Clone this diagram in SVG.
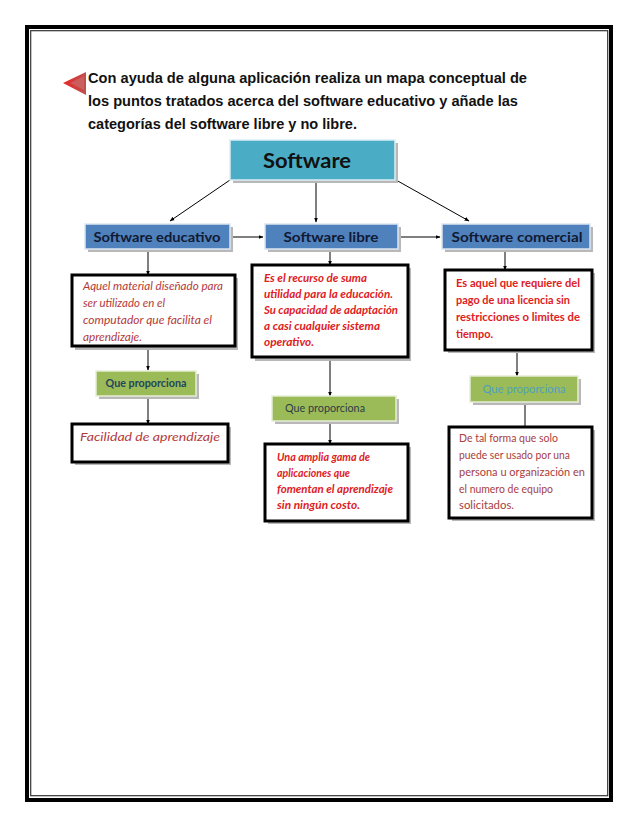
<svg xmlns="http://www.w3.org/2000/svg" width="638" height="826" viewBox="0 0 638 826">
<defs>
<marker id="ah" viewBox="0 0 10 10" refX="9" refY="5" markerWidth="5" markerHeight="5" orient="auto" markerUnits="userSpaceOnUse"><path d="M0,1 L10,5 L0,9 z" fill="#000"/></marker>
<linearGradient id="tri" x1="0" y1="0" x2="1" y2="0"><stop offset="0" stop-color="#e8262a"/><stop offset="1" stop-color="#c0504d"/></linearGradient>
</defs>
<style>
.title{font-family:"Liberation Sans",Arial,sans-serif;font-weight:bold;font-size:15px;fill:#111}
.cal{font-family:Lato,"Open Sans",sans-serif}
.hdr{font-weight:bold;font-size:13px;fill:#111a33}
.blue{fill:#4f81bd;stroke:#dce6f2;stroke-width:1.5}
.teal{fill:#4bacc6;stroke:#dbeef4;stroke-width:1.5}
.green{fill:#9bbb59;stroke:#e6eed5;stroke-width:1.5}
.sh{fill:#b8b8b8}
.desc{fill:#fff;stroke:#000;stroke-width:3}
.red1{font-style:italic;font-size:10.5px;fill:#b33a3a}
.red2{font-style:italic;font-weight:bold;font-size:10.5px;fill:#e0201e}
.red3{font-weight:bold;font-size:10.5px;fill:#e0201e}
.red4{font-size:10.5px;fill:#a8403d}
.conn line,.conn path{stroke:#000;stroke-width:1;fill:none}
</style>
<rect width="638" height="826" fill="#fff"/>
<g id="frame">
<rect x="27" y="27" width="584" height="773" fill="none" stroke="#000" stroke-width="4"/>
<rect x="30.7" y="30.7" width="577" height="765" fill="none" stroke="#333" stroke-width="1.2"/>
</g>
<g id="title">
<polygon points="63,83 86,72 86,95" fill="url(#tri)"/>
<polygon points="70,83 84,76 84,90" fill="#c9716e" opacity="0.6"/>
<text class="title" x="88" y="83" textLength="439" lengthAdjust="spacingAndGlyphs">Con ayuda de alguna aplicación realiza un mapa conceptual de</text>
<text class="title" x="88" y="106" textLength="430" lengthAdjust="spacingAndGlyphs">los puntos tratados acerca del software educativo y añade las</text>
<text class="title" x="88" y="129" textLength="269" lengthAdjust="spacingAndGlyphs">categorías del software libre y no libre.</text>
</g>
<g class="conn">
<line x1="230" y1="180" x2="170" y2="221" marker-end="url(#ah)"/>
<line x1="316" y1="180" x2="316" y2="222" marker-end="url(#ah)"/>
<line x1="396" y1="180" x2="469" y2="221" marker-end="url(#ah)"/>
<line x1="231" y1="237" x2="263" y2="237" marker-end="url(#ah)"/>
<line x1="399" y1="237" x2="440" y2="237" marker-end="url(#ah)"/>
<line x1="148" y1="250" x2="148" y2="275" marker-end="url(#ah)"/>
<line x1="148" y1="347" x2="148" y2="370" marker-end="url(#ah)"/>
<line x1="148" y1="397" x2="148" y2="424" marker-end="url(#ah)"/>
<line x1="330" y1="250" x2="330" y2="265" marker-end="url(#ah)"/>
<line x1="330" y1="358" x2="330" y2="396" marker-end="url(#ah)"/>
<line x1="330" y1="422" x2="330" y2="444" marker-end="url(#ah)"/>
<line x1="505" y1="250" x2="505" y2="270" marker-end="url(#ah)"/>
<line x1="517" y1="350" x2="517" y2="376" marker-end="url(#ah)"/>
<line x1="525" y1="403" x2="525" y2="427"/>
</g>
<g id="software">
<rect class="sh" x="233" y="143" width="165" height="40"/>
<rect class="teal" x="230" y="140" width="165" height="40"/>
<text class="cal" x="307" y="168" text-anchor="middle" font-weight="bold" font-size="20" fill="#111" textLength="88" lengthAdjust="spacingAndGlyphs">Software</text>
</g>
<g id="sw-educativo">
<rect class="sh" x="88" y="227" width="145" height="25"/>
<rect class="blue" x="85" y="224" width="145" height="25"/>
<text class="cal hdr" x="157" y="242" text-anchor="middle" textLength="127" lengthAdjust="spacingAndGlyphs">Software educativo</text>
</g>
<g id="sw-libre">
<rect class="sh" x="268" y="227" width="133" height="25"/>
<rect class="blue" x="265" y="224" width="133" height="25"/>
<text class="cal hdr" x="331" y="242" text-anchor="middle" textLength="95" lengthAdjust="spacingAndGlyphs">Software libre</text>
</g>
<g id="sw-comercial">
<rect class="sh" x="445" y="227" width="148" height="25"/>
<rect class="blue" x="442" y="224" width="148" height="25"/>
<text class="cal hdr" x="517" y="242" text-anchor="middle" textLength="131" lengthAdjust="spacingAndGlyphs">Software comercial</text>
</g>
<g id="desc-educativo">
<rect class="sh" x="75" y="278" width="163" height="72"/>
<rect class="desc" x="72" y="275" width="163" height="71"/>
<text class="cal red1" x="83" y="290" textLength="140" lengthAdjust="spacingAndGlyphs">Aquel material diseñado para</text>
<text class="cal red1" x="83" y="307" textLength="82" lengthAdjust="spacingAndGlyphs">ser utilizado en el</text>
<text class="cal red1" x="83" y="324" textLength="129" lengthAdjust="spacingAndGlyphs">computador que facilita el</text>
<text class="cal red1" x="83" y="341" textLength="59" lengthAdjust="spacingAndGlyphs">aprendizaje.</text>
</g>
<g id="qp-educativo">
<rect class="sh" x="99" y="374" width="100" height="25"/>
<rect class="green" x="96" y="371" width="100" height="25"/>
<text class="cal" x="146" y="387" text-anchor="middle" font-weight="bold" font-size="10.5" fill="#24455a" textLength="81" lengthAdjust="spacingAndGlyphs">Que proporciona</text>
</g>
<g id="facilidad">
<rect class="sh" x="75" y="427" width="156" height="38"/>
<rect class="desc" x="72" y="424" width="156" height="38"/>
<text class="cal red1" x="80" y="441" textLength="140" lengthAdjust="spacingAndGlyphs">Facilidad de aprendizaje</text>
</g>
<g id="desc-libre">
<rect class="sh" x="255" y="268" width="156" height="93"/>
<rect class="desc" x="252" y="265" width="156" height="92"/>
<text class="cal red2" x="264" y="282" textLength="103" lengthAdjust="spacingAndGlyphs">Es el recurso de suma</text>
<text class="cal red2" x="264" y="298" textLength="129" lengthAdjust="spacingAndGlyphs">utilidad para la educación.</text>
<text class="cal red2" x="264" y="314" textLength="134" lengthAdjust="spacingAndGlyphs">Su capacidad de adaptación</text>
<text class="cal red2" x="264" y="330" textLength="116" lengthAdjust="spacingAndGlyphs">a casi cualquier sistema</text>
<text class="cal red2" x="264" y="346" textLength="50" lengthAdjust="spacingAndGlyphs">operativo.</text>
</g>
<g id="qp-libre">
<rect class="sh" x="275" y="399" width="124" height="25"/>
<rect class="green" x="272" y="396" width="124" height="25"/>
<text class="cal" x="285" y="412" font-size="10.5" fill="#2c3e45" textLength="80" lengthAdjust="spacingAndGlyphs">Que proporciona</text>
</g>
<g id="gama">
<rect class="sh" x="268" y="447" width="143" height="77"/>
<rect class="desc" x="265" y="444" width="143" height="77"/>
<text class="cal red2" x="277" y="461" textLength="93" lengthAdjust="spacingAndGlyphs">Una amplia gama de</text>
<text class="cal red2" x="277" y="477" textLength="73" lengthAdjust="spacingAndGlyphs">aplicaciones que</text>
<text class="cal red2" x="277" y="493" textLength="116" lengthAdjust="spacingAndGlyphs">fomentan el aprendizaje</text>
<text class="cal red2" x="277" y="509" textLength="83" lengthAdjust="spacingAndGlyphs">sin ningún costo.</text>
</g>
<g id="desc-comercial">
<rect class="sh" x="448" y="273" width="147" height="80"/>
<rect class="desc" x="445" y="270" width="147" height="80"/>
<text class="cal red3" x="456" y="287" textLength="124" lengthAdjust="spacingAndGlyphs">Es aquel que requiere del</text>
<text class="cal red3" x="456" y="304" textLength="114" lengthAdjust="spacingAndGlyphs">pago de una licencia sin</text>
<text class="cal red3" x="456" y="321" textLength="124" lengthAdjust="spacingAndGlyphs">restricciones o limites de</text>
<text class="cal red3" x="456" y="338" textLength="37" lengthAdjust="spacingAndGlyphs">tiempo.</text>
</g>
<g id="qp-comercial">
<rect class="sh" x="473" y="379" width="108" height="26"/>
<rect class="green" x="470" y="376" width="108" height="26"/>
<text class="cal" x="524" y="393" text-anchor="middle" font-size="10.5" fill="#4f9fbf" textLength="83" lengthAdjust="spacingAndGlyphs">Que proporciona</text>
</g>
<g id="desc-licencia">
<rect class="sh" x="452" y="430" width="143" height="91"/>
<rect class="desc" x="449" y="427" width="143" height="91"/>
<text class="cal red4" x="459" y="442" textLength="99" lengthAdjust="spacingAndGlyphs">De tal forma que solo</text>
<text class="cal red4" x="459" y="459" textLength="111" lengthAdjust="spacingAndGlyphs">puede ser usado por una</text>
<text class="cal red4" x="459" y="476" textLength="126" lengthAdjust="spacingAndGlyphs">persona u organización en</text>
<text class="cal red4" x="459" y="493" textLength="94" lengthAdjust="spacingAndGlyphs">el numero de equipo</text>
<text class="cal red4" x="459" y="509" textLength="55" lengthAdjust="spacingAndGlyphs">solicitados.</text>
</g>
</svg>
